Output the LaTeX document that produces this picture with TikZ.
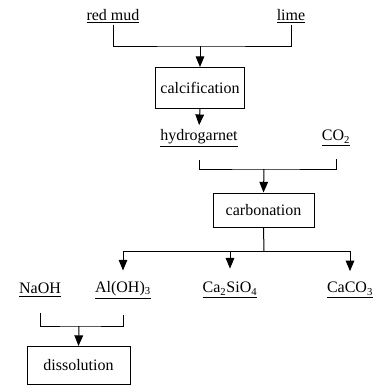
\documentclass[tikz,border=0pt]{standalone}
\usepackage{fontspec}
\setmainfont{Liberation Serif}
\usetikzlibrary{arrows.meta}

\tikzset{
	stage/.style={draw, line width=0.75pt, inner sep=2pt},
	product/.style={inner sep=1pt},
	flow/.style={line width=0.75pt},
	feed/.style={flow, -{Triangle[width=6.5pt,length=8pt]}},
}

\begin{document}
\begin{tikzpicture}[x=0.75pt, y=-0.75pt, font=\fontsize{12}{14}\selectfont]
		\useasboundingbox (0,0) rectangle (374,386);
		
		\node[product] (redmud) at (113,16){\underline{red mud}};
		\node[product] (lime) at (291,16){\underline{lime}};
		\coordinate (mix) at (200,46);
		\node[stage, minimum width=66.75pt, minimum height=30.75pt] (calc) at (200,88){calcification};
		\draw[flow] (redmud.south) |- (mix) -| (lime.south);
		\draw[feed] (mix) -- (calc.north);
		
		\node[product] (hydro) at (199,138){\underline{hydrogarnet}};
		\node[product] (co2) at (336,138){\underline{CO\textsubscript{2}}};
		\draw[feed, shorten >=2pt] (calc.south) -- (hydro.north);
		\coordinate (gas) at (264,169);
		\node[stage, minimum width=75.75pt, minimum height=25.5pt] (carb) at (263.5,210){carbonation};
		\draw[flow, shorten <=9pt, shorten >=9pt] (hydro.south) |- (gas) -| (co2.south);
		\draw[feed] (gas) -- (carb.north);
		
		\node[product] (naoh) at (40,290){\underline{NaOH}};
		\node[product] (aloh) at (123,290){\underline{Al(OH)\textsubscript{3}}};
		\node[product] (casio) at (230,290){\underline{Ca\textsubscript{2}SiO\textsubscript{4}}};
		\node[product] (caco) at (350,290){\underline{CaCO\textsubscript{3}}};
		\coordinate (split) at (264,251);
		\draw[flow] (carb.south) -- (split);
		\draw[feed, shorten >=7pt] (split) -| (aloh.north);
		\draw[feed, shorten >=7pt] (split) -| (caco.north);
		\draw[feed, shorten >=9pt] (casio.north |- split) -- (casio.north);
		
		\coordinate (leach) at (79,326);
		\node[stage, minimum width=77.25pt, minimum height=28.5pt] (diss) at (78.5,365.5){dissolution};
		\draw[flow, shorten <=11pt, shorten >=11pt] (naoh.south) |- (leach) -| (aloh.south);
		\draw[feed] (leach) -- (diss.north);
	\end{tikzpicture}
\end{document}
